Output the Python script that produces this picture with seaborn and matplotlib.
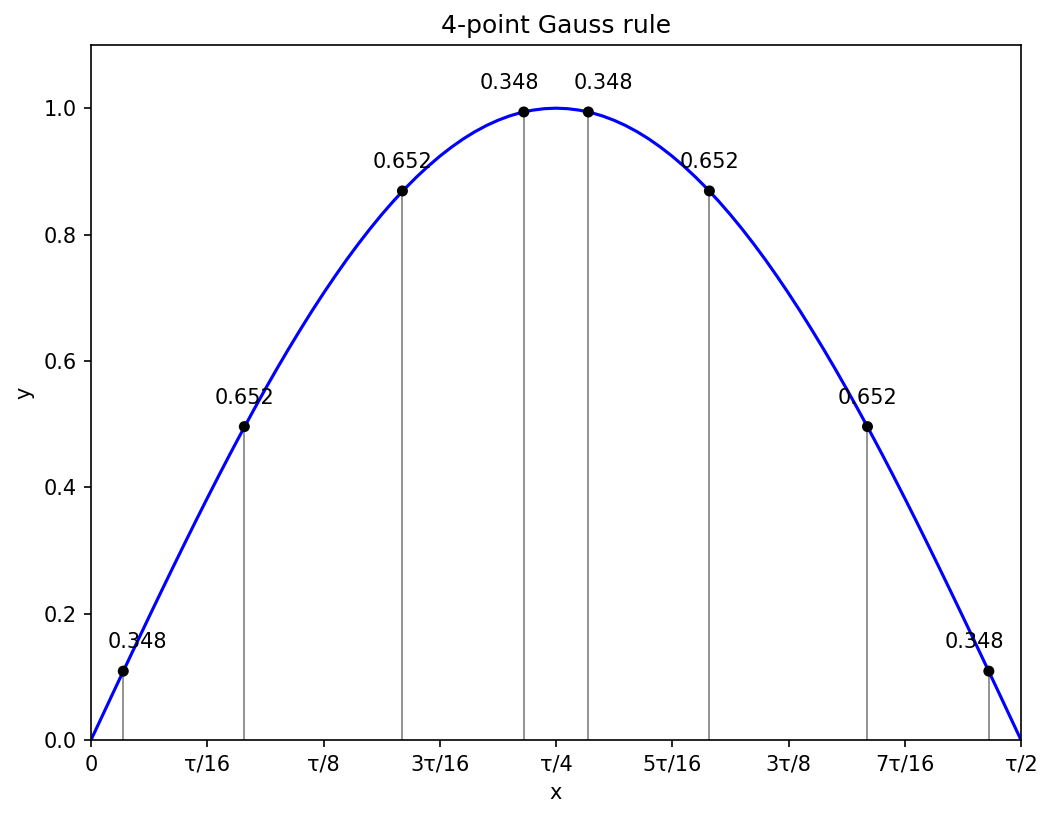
import numpy as np
import pandas as pd
import matplotlib
matplotlib.use("Agg")
import matplotlib.pyplot as plt
import seaborn as sns

# Curve samples (y = sin x on [0, tau/2])
curve_x = [0.0000, 0.0393, 0.0785, 0.1178, 0.1571, 0.1963, 0.2356, 0.2749, 0.3142, 0.3534,
           0.3927, 0.4320, 0.4712, 0.5105, 0.5498, 0.5890, 0.6283, 0.6676, 0.7069, 0.7461,
           0.7854, 0.8247, 0.8639, 0.9032, 0.9425, 0.9817, 1.0210, 1.0603, 1.0996, 1.1388,
           1.1781, 1.2174, 1.2566, 1.2959, 1.3352, 1.3744, 1.4137, 1.4530, 1.4923, 1.5315,
           1.5708,
           1.6101, 1.6493, 1.6886, 1.7279, 1.7672, 1.8064, 1.8457, 1.8850, 1.9242, 1.9635,
           2.0028, 2.0420, 2.0813, 2.1206, 2.1598, 2.1991, 2.2384, 2.2777, 2.3169, 2.3562,
           2.3955, 2.4347, 2.4740, 2.5133, 2.5525, 2.5918, 2.6311, 2.6704, 2.7096, 2.7489,
           2.7882, 2.8274, 2.8667, 2.9060, 2.9452, 2.9845, 3.0238, 3.0631, 3.1023, 3.1416]
curve_y = [0.0000, 0.0393, 0.0785, 0.1175, 0.1564, 0.1951, 0.2334, 0.2714, 0.3090, 0.3461,
           0.3827, 0.4187, 0.4540, 0.4886, 0.5225, 0.5556, 0.5878, 0.6191, 0.6494, 0.6788,
           0.7071, 0.7343, 0.7604, 0.7853, 0.8090, 0.8315, 0.8526, 0.8725, 0.8910, 0.9081,
           0.9239, 0.9382, 0.9511, 0.9625, 0.9724, 0.9808, 0.9877, 0.9931, 0.9969, 0.9992,
           1.0000,
           0.9992, 0.9969, 0.9931, 0.9877, 0.9808, 0.9724, 0.9625, 0.9511, 0.9382, 0.9239,
           0.9081, 0.8910, 0.8725, 0.8526, 0.8315, 0.8090, 0.7853, 0.7604, 0.7343, 0.7071,
           0.6788, 0.6494, 0.6191, 0.5878, 0.5556, 0.5225, 0.4886, 0.4540, 0.4187, 0.3827,
           0.3461, 0.3090, 0.2714, 0.2334, 0.1951, 0.1564, 0.1175, 0.0785, 0.0393, 0.0000]

# Gauss nodes and weights
node_x = [0.109, 0.518, 1.052, 1.462, 1.680, 2.089, 2.623, 3.033]
node_y = [0.109, 0.496, 0.869, 0.994, 0.994, 0.869, 0.496, 0.109]
node_w = ["0.348", "0.652", "0.652", "0.348", "0.348", "0.652", "0.652", "0.348"]
label_dx = [7, 0, 0, -7, 7, 0, 0, -7]

tick_pos = [0, np.pi/8, np.pi/4, 3*np.pi/8, np.pi/2, 5*np.pi/8, 3*np.pi/4, 7*np.pi/8, np.pi]
tick_labels = ["0", "τ/16", "τ/8", "3τ/16", "τ/4", "5τ/16", "3τ/8", "7τ/16", "τ/2"]

sns.set_style("ticks")
plt.rcParams['font.family'] = ['DejaVu Sans']
plt.rcParams['text.color'] = 'black'
plt.rcParams['axes.labelcolor'] = 'black'

fig, ax = plt.subplots(figsize=(1052/150, 818/150), dpi=150)
fig.subplots_adjust(left=91/1052, right=1021/1052, top=1-45/818, bottom=1-740/818)

curve = pd.DataFrame({"x": curve_x, "y": curve_y})
nodes = pd.DataFrame({"x": node_x, "y": node_y, "w": node_w})

ax.vlines(nodes["x"], 0, nodes["y"], color="gray", lw=0.8)
sns.lineplot(data=curve, x="x", y="y", color="blue", lw=1.5, ax=ax, sort=False)
sns.scatterplot(data=nodes, x="x", y="y", color="black", s=28, edgecolor="none", ax=ax, zorder=3)

for xv, yv, w, dx in zip(node_x, node_y, node_w, label_dx):
    ax.annotate(w, (xv, yv), xytext=(dx, 9), textcoords="offset points",
                ha="center", va="bottom", fontsize=10, color="black")

ax.set_xlim(0, np.pi)
ax.set_ylim(0, 1.1)
ax.set_xticks(tick_pos)
ax.set_xticklabels(tick_labels)
ax.set_yticks([0, 0.2, 0.4, 0.6, 0.8, 1.0])
ax.set_xlabel("x", color="black")
ax.set_ylabel("y", color="black")
ax.set_title("4-point Gauss rule", color="black")
for s in ax.spines.values():
    s.set_visible(True)
    s.set_color("black")
    s.set_linewidth(0.8)
ax.tick_params(colors="black", labelsize=10, length=3.5, width=0.8)

fig.savefig("out.png", dpi=150)
